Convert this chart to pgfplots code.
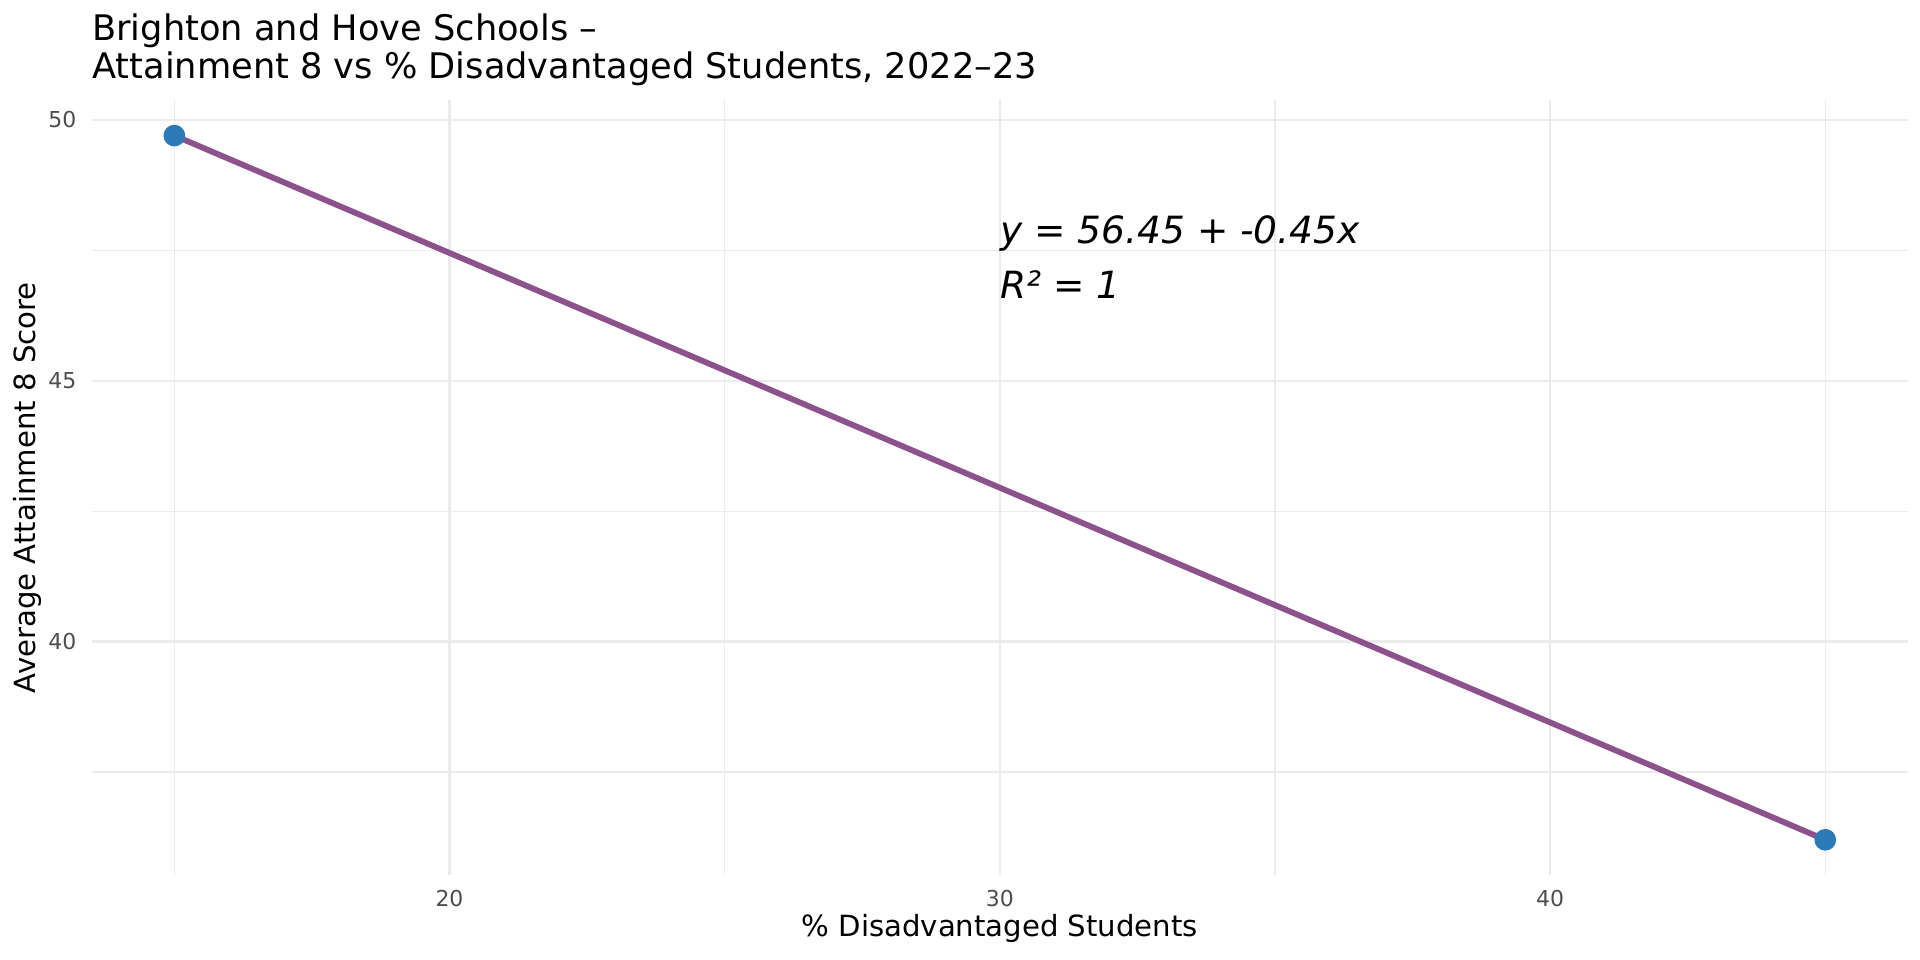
\documentclass[border=0pt]{standalone}
\usepackage{pgfplots}
\pgfplotsset{compat=1.18}
\usepackage{fontspec}
\setmainfont{DejaVu Sans}
\definecolor{gridc}{HTML}{EBEBEB}
\definecolor{tickc}{HTML}{4D4D4D}
\definecolor{linec}{RGB}{140,82,140}
\definecolor{ptc}{HTML}{2C7BB6}
\begin{document}
\begin{tikzpicture}
\useasboundingbox (-33.05pt,-30.6pt) rectangle (658.15pt,315pt);
\begin{axis}[
 at={(0pt,0pt)}, anchor=south west, scale only axis,
 width=653.76pt, height=278.86pt,
 xmin=13.5, xmax=46.5, ymin=35.525, ymax=50.375,
 xtick={20,30,40}, ytick={40,45,50},
 minor xtick={15,25,35,45}, minor ytick={37.5,42.5,47.5},
 grid=both,
 major grid style={draw=gridc, line width=0.9pt},
 minor grid style={draw=gridc, line width=0.45pt},
 axis line style={draw=none},
 major tick length=0pt, minor tick length=0pt,
 tick style={draw=none},
 /pgf/number format/assume math mode=true,
 ticklabel style={font=\fontsize{7.9}{9}\selectfont, text=tickc},
 xticklabel style={anchor=base, inner sep=0pt, yshift=-11.2pt},
 yticklabel style={anchor=east, inner sep=0pt, xshift=-5.4pt},
 xlabel={\% Disadvantaged Students},
 ylabel={Average Attainment 8 Score},
 label style={font=\fontsize{10.5}{12}\selectfont},
 xlabel style={at={([yshift=-22.3pt]axis description cs:0.5,0)}, anchor=base, inner sep=0pt},
 ylabel style={at={([xshift=-20.1pt]axis description cs:0,0.5)}, anchor=base, inner sep=0pt},
]
\addplot[only marks, mark=*, mark size=3.7pt, color=ptc] coordinates {(15,49.7) (45,36.2)};
\addplot[linec, line width=2.1pt] coordinates {(15,49.7) (45,36.2)};
\node[anchor=base west, inner sep=0pt, font=\fontsize{13.5}{15}\selectfont\itshape] at (axis cs:30,47.64) {y = 56.45 + -0.45x};
\node[anchor=base west, inner sep=0pt, font=\fontsize{13.5}{15}\selectfont\itshape] at (axis cs:30,46.57) {R² = 1};
\end{axis}
\node[anchor=base west, inner sep=0pt, font=\fontsize{12.67}{15}\selectfont] at (0pt,300.36pt) {Brighton and Hove Schools –};
\node[anchor=base west, inner sep=0pt, font=\fontsize{12.67}{15}\selectfont] at (0pt,286.56pt) {Attainment 8 vs \% Disadvantaged Students, 2022–23};
\end{tikzpicture}
\end{document}
